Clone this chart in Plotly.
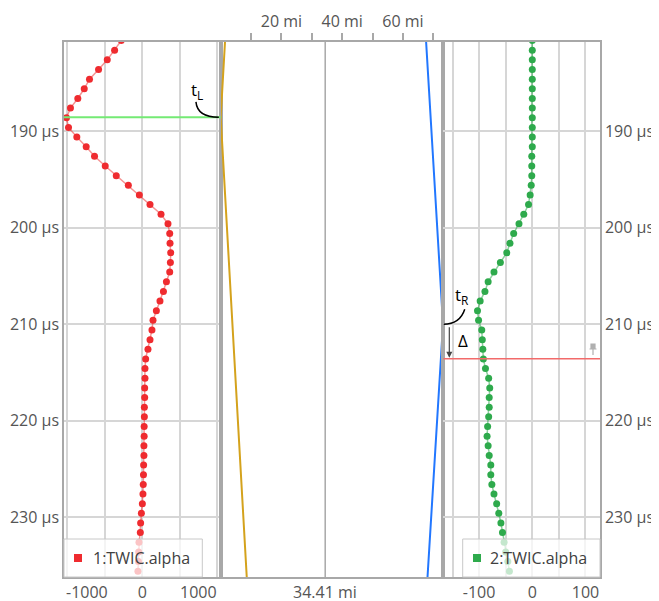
import plotly.graph_objects as go

# ---------------- data ----------------
time_us = [180.6, 181.6, 182.6, 183.6, 184.6, 185.6, 186.6, 187.6, 188.6, 189.6,
           190.6, 191.6, 192.6, 193.6, 194.6, 195.6, 196.6, 197.6, 198.6, 199.6,
           200.6, 201.6, 202.6, 203.6, 204.6, 205.6, 206.6, 207.6, 208.6, 209.6,
           210.6, 211.6, 212.6, 213.6, 214.6, 215.6, 216.6, 217.6, 218.6, 219.6,
           220.6, 221.6, 222.6, 223.6, 224.6, 225.6, 226.6, 227.6, 228.6, 229.6,
           230.6, 231.6, 232.6, 233.6, 234.6, 235.6]

ch1_alpha = [-281, -370, -468, -584, -705, -775, -861, -959, -1012, -985,
             -874, -749, -638, -495, -348, -187, -40, 102, 249, 342,
             365, 369, 378, 374, 365, 321, 281, 235, 187, 142,
             128, 102, 75, 44, 35, 35, 31, 31, 27, 27,
             24, 24, 21, 21, 17, 15, 12, 8, 0, -13,
             -23, -27, -45, -49, -53, -59]

ch2_alpha = [0, 0, 0, 0, 0, 0, 0, 0, 0, 0,
             0, 0, -1, -1, -1, -2, -4, -7, -16, -25,
             -35, -42, -48, -60, -72, -83, -89, -98, -103, -101,
             -95, -94, -93, -92, -88, -82, -80, -81, -81, -82,
             -84, -85, -83, -81, -78, -78, -76, -72, -67, -63,
             -59, -56, -53, -50, -46, -43]

left_track_t = [180.0, 188.55, 237.0]
left_track_mi = [1.55, 0.0, 8.72]
right_track_t = [180.0, 210.0, 237.0]
right_track_mi = [67.5, 73.2, 67.95]

t_left = 188.55
t_right = 210.0
t_cursor = 213.57
cursor_mi = 34.41

y_ticks = [190, 200, 210, 220, 230]
y_tick_text = ["190 µs", "200 µs", "210 µs", "220 µs", "230 µs"]
left_x_grid = [-1000, -500, 0, 500, 1000]
left_x_text = ["", "", "0", "", ""]
right_x_grid = [-150, -100, -50, 0, 50, 100]
right_x_text = ["", "-100", "", "0", "", "100"]
mid_ticks = [10, 20, 30, 40, 50, 60, 70]
mid_text = ["", "20 mi", "", "40 mi", "", "60 mi", ""]
legend1 = "1:TWIC.alpha"
legend2 = "2:TWIC.alpha"

# ---------------- style ----------------
FONT = "Open Sans"
TICK_COLOR = "#555555"
GRID = "#d6d6d6"
BORDER = "#a8a8a8"
RED = "#ef2b2f"
GREEN = "#2eaa4c"
GOLD = "#d4a21c"
BLUE = "#2277ff"

OFF = 8  # page body margin
W, H = 659 - OFF, 601 - OFF
ML, MT = 64 - OFF, 42 - OFF
MR = W - (600 - OFF)
MB = H - (577 - OFF)
PW = W - ML - MR
PH = H - MT - MB


def px(xp):
    return (xp - OFF - ML) / PW


def py(yp):
    return (H - MB - (yp - OFF)) / PH


d1 = [0.0, 156.7 / PW]
d2 = [156.7 / PW, 379.3 / PW]
d3 = [379.3 / PW, 1.0]
y_range = [236.2, 180.75]

fig = go.Figure()
fig.add_trace(go.Scatter(
    x=ch1_alpha, y=time_us, xaxis="x", yaxis="y", mode="lines+markers",
    line=dict(color="rgba(239,60,60,0.55)", width=1.5),
    marker=dict(color=RED, size=7), name=legend1))
fig.add_trace(go.Scatter(
    x=left_track_mi, y=left_track_t, xaxis="x2", yaxis="y2", mode="lines",
    line=dict(color=GOLD, width=2), name="left"))
fig.add_trace(go.Scatter(
    x=right_track_mi, y=right_track_t, xaxis="x2", yaxis="y2", mode="lines",
    line=dict(color=BLUE, width=2), name="right"))
fig.add_trace(go.Scatter(
    x=ch2_alpha, y=time_us, xaxis="x3", yaxis="y3", mode="lines+markers",
    line=dict(color="rgba(46,170,76,0.55)", width=1.5),
    marker=dict(color=GREEN, size=7), name=legend2))

tickfont = dict(family=FONT, size=16, color=TICK_COLOR)
common_x = dict(showline=True, mirror=True, linecolor=BORDER, linewidth=1.5,
                zeroline=False, tickfont=tickfont, automargin=False, fixedrange=True)
common_y = dict(range=y_range, showline=True, mirror=True, linecolor=BORDER,
                linewidth=1.5, zeroline=False, tickfont=tickfont, automargin=False,
                gridcolor=GRID, gridwidth=1.5, fixedrange=True)

fig.update_layout(
    width=W, height=H,
    autosize=False,
    margin=dict(l=ML, r=MR, t=MT, b=MB, pad=0),
    paper_bgcolor="white", plot_bgcolor="white",
    showlegend=False,
    font=dict(family=FONT, size=16, color=TICK_COLOR),
    xaxis=dict(domain=d1, anchor="y", range=[-1045, 1045], tickmode="array",
               tickvals=left_x_grid, ticktext=left_x_text, showgrid=True,
               gridcolor=GRID, gridwidth=1.5, ticks="", **common_x),
    xaxis2=dict(domain=d2, anchor="y2", range=[0, 73.3], side="top",
                tickmode="array", tickvals=mid_ticks, ticktext=mid_text,
                showgrid=False, ticks="outside", ticklen=7, tickwidth=1.5,
                tickcolor=BORDER, **common_x),
    xaxis3=dict(domain=d3, anchor="y3", range=[-167.3, 127.3], tickmode="array",
                tickvals=right_x_grid, ticktext=right_x_text, showgrid=True,
                gridcolor=GRID, gridwidth=1.5, ticks="", **common_x),
    yaxis=dict(anchor="x", side="left", showgrid=True, ticks="", tickmode="array",
               tickvals=y_ticks, ticktext=y_tick_text, **common_y),
    yaxis2=dict(anchor="x2", showgrid=False, showticklabels=False, ticks="",
                **common_y),
    yaxis3=dict(anchor="x3", side="right", showgrid=True, ticks="", tickmode="array",
                tickvals=y_ticks, ticktext=y_tick_text, **common_y),
)

shapes = []
# cursor in middle track
shapes.append(dict(type="line", xref="x2", yref="paper", x0=cursor_mi, x1=cursor_mi,
                   y0=0, y1=1, line=dict(color=BORDER, width=1.5)))
# t_L cursor line (left panel)
shapes.append(dict(type="line", xref="paper", yref="y", x0=d1[0], x1=d1[1], y0=t_left,
                   y1=t_left, line=dict(color="#74ea74", width=2)))
# t_R + delta cursor line (right panel)
shapes.append(dict(type="line", xref="paper", yref="y3", x0=d3[0], x1=d3[1], y0=t_cursor,
                   y1=t_cursor, line=dict(color="#f26a6a", width=1.5)))
# t_L hook
shapes.append(dict(type="path", xref="x", yref="y",
                   path=f"M 715,186.96 Q 733,{t_left} 1020,{t_left}",
                   line=dict(color="black", width=1.5)))
# t_R hook
shapes.append(dict(type="path", xref="x3", yref="y3",
                   path=f"M -167,{t_right} Q -136,{t_right} -127,208.45",
                   line=dict(color="black", width=1.5)))
# legend boxes
for x0p, x1p in [(64, 202.3), (462.7, 600)]:
    shapes.append(dict(type="rect", xref="paper", yref="paper",
                       x0=px(x0p), x1=px(x1p), y0=py(577), y1=py(539),
                       fillcolor="rgba(255,255,255,0.72)",
                       line=dict(color="#c8c8c8", width=1), layer="above"))
shapes.append(dict(type="rect", xref="paper", yref="paper", x0=px(74), x1=px(82),
                   y0=py(562), y1=py(554), fillcolor=RED, line=dict(width=0)))
shapes.append(dict(type="rect", xref="paper", yref="paper", x0=px(473), x1=px(481),
                   y0=py(562), y1=py(554), fillcolor=GREEN, line=dict(width=0)))
# pin icon
pin = (f"M {px(591)},{py(344)} L {px(595)},{py(344)} L {px(595)},{py(348.5)} "
       f"L {px(591)},{py(348.5)} Z M {px(589.5)},{py(349)} L {px(596.5)},{py(349)} "
       f"M {px(593)},{py(349)} L {px(593)},{py(355)}")
shapes.append(dict(type="path", xref="paper", yref="paper", path=pin,
                   fillcolor="#b0b0b0", line=dict(color="#b0b0b0", width=1.2)))
fig.update_layout(shapes=shapes)

labfont = dict(family=FONT, size=16, color=TICK_COLOR)
annos = [
    dict(text="-1000", xref="paper", yref="paper", x=d1[0], y=0, xanchor="left",
         yanchor="top", showarrow=False, font=labfont, yshift=-2),
    dict(text="1000", xref="paper", yref="paper", x=d1[1], y=0, xanchor="right",
         yanchor="top", showarrow=False, font=labfont, yshift=-2, xshift=-2),
    dict(text=f"{cursor_mi} mi", xref="x2", yref="paper", x=cursor_mi, y=0,
         xanchor="center", yanchor="top", showarrow=False, font=labfont, yshift=-2),
    dict(text="t<sub>L</sub>", xref="x", yref="y", x=729, y=185.75, showarrow=False,
         font=dict(family=FONT, size=17, color="black")),
    dict(text="t<sub>R</sub>", xref="x3", yref="y3", x=-132, y=207.0, showarrow=False,
         font=dict(family=FONT, size=17, color="black")),
    dict(text="Δ", xref="x3", yref="y3", x=-131, y=211.66, showarrow=False,
         font=dict(family=FONT, size=17, color="black")),
    dict(text="", xref="x3", yref="y3", x=-156, y=t_cursor - 0.1, axref="x3", ayref="y3",
         ax=-156, ay=t_right + 0.15, showarrow=True, arrowhead=2, arrowsize=1,
         arrowwidth=1.2, arrowcolor="#444444"),
    dict(text=legend1, xref="paper", yref="paper", x=px(91), y=py(558), xanchor="left",
         yanchor="middle", showarrow=False,
         font=dict(family=FONT, size=16, color="#404040")),
    dict(text=legend2, xref="paper", yref="paper", x=px(488), y=py(558), xanchor="left",
         yanchor="middle", showarrow=False,
         font=dict(family=FONT, size=16, color="#404040")),
]
fig.update_layout(annotations=annos)

fig.write_html("out.html")
